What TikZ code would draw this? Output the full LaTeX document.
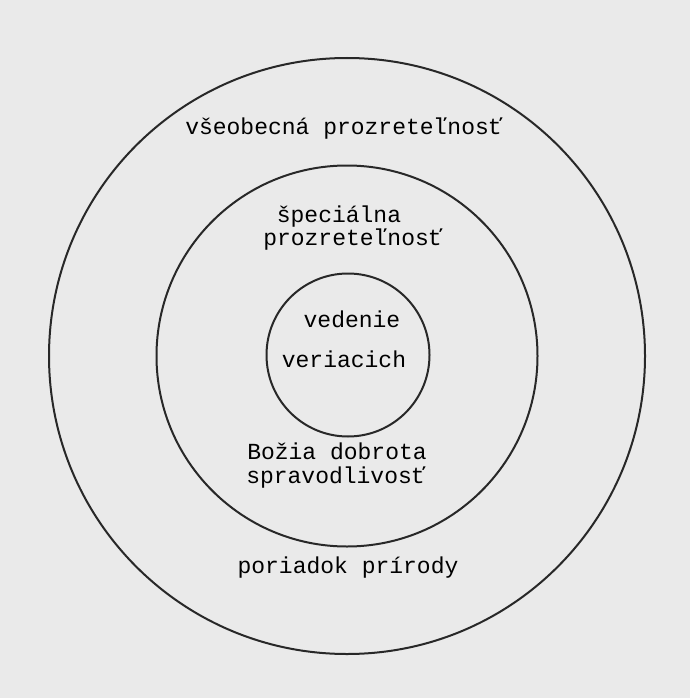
\documentclass[tikz,border=0pt]{standalone}
\usepackage{fontspec}
\setmonofont{Liberation Mono}
\definecolor{bg}{RGB}{234,234,234}
\definecolor{ink}{RGB}{40,40,40}
\begin{document}
\begin{tikzpicture}[x=1pt,y=-1pt,
  ring/.style={circle,draw=ink,line width=2pt,inner sep=0pt},
  lbl/.style={anchor=base,inner sep=0pt,text=black,font=\ttfamily\fontsize{23}{28}\selectfont}]
\fill[bg] (0,0) rectangle (690,698);
\useasboundingbox (0,0) rectangle (690,698);
\node[ring,minimum size=596pt] (outer) at (347,356) {};
\node[ring,minimum size=381pt] (middle) at (347,356) {};
\node[ring,minimum size=163pt] (inner) at (348,355) {};
\node[lbl] (t1) at (344,135) {všeobecná prozreteľnosť};
\node[lbl] (t2) at (339,222) {špeciálna};
\node[lbl] (t3) at (353,245) {prozreteľnosť};
\node[lbl] (t4) at (352,327) {vedenie};
\node[lbl] (t5) at (344,367) {veriacich};
\node[lbl] (t6) at (337,459) {Božia dobrota};
\node[lbl] (t7) at (336,483) {spravodlivosť};
\node[lbl] (t8) at (348,573) {poriadok prírody};
\end{tikzpicture}
\end{document}
